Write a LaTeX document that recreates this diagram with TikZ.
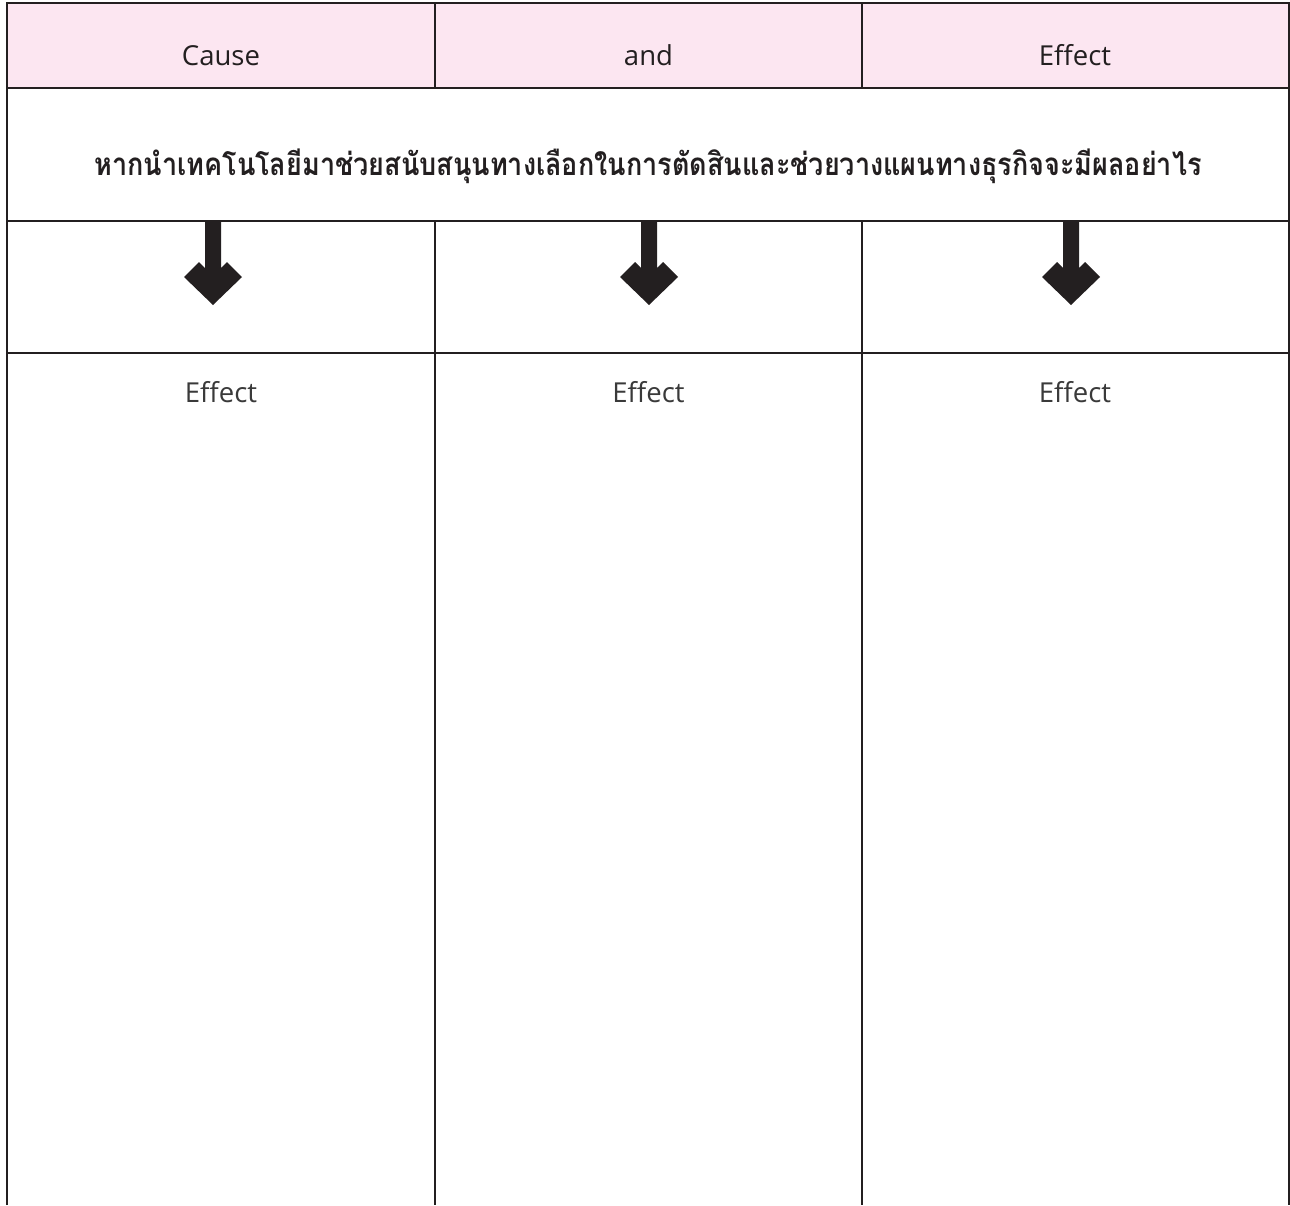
\documentclass[tikz,border=0pt]{standalone}
\usepackage{fontspec}
\setmainfont{Open Sans}
\newfontfamily\thaifont[Script=Thai,FakeStretch=0.86]{Loma}
\definecolor{ink}{HTML}{231F20}
\definecolor{headpink}{HTML}{FCE6F1}
\definecolor{softgray}{HTML}{3A3A3A}
\begin{document}
\begin{tikzpicture}[x=1pt,y=-1pt,
  gridline/.style={draw=ink,line width=2.9pt},
  headtext/.style={anchor=base,text=ink,font=\fontsize{27.5}{32}\selectfont,inner sep=0pt},
  effecttext/.style={anchor=base,text=softgray,font=\fontsize{27.5}{32}\selectfont,inner sep=0pt},
  questiontext/.style={anchor=base,text=ink,font=\thaifont\bfseries\fontsize{31.4}{36}\selectfont,inner sep=0pt},
  downarrow/.style={fill=ink,draw=none}]
\useasboundingbox (0,0) rectangle (1290,1205);
% header fill
\fill[headpink] (7,3) rectangle (1289,88);
% grid
\draw[gridline] (7,1205) -- (7,3) -- (1289,3) -- (1289,1205);
\draw[gridline] (7,88) -- (1289,88);
\draw[gridline] (7,221) -- (1289,221);
\draw[gridline] (7,353) -- (1289,353);
\draw[gridline] (435,3) -- (435,88);
\draw[gridline] (862,3) -- (862,88);
\draw[gridline] (435,221) -- (435,1205);
\draw[gridline] (862,221) -- (862,1205);
% header texts
\node[headtext] (cause) at (221,65) {Cause};
\node[headtext] (and) at (648.5,65) {and};
\node[headtext] (effect) at (1075,65) {Effect};
% question
\node[questiontext] (question) at (648,175) {หากนำเทคโนโลยีมาช่วยสนับสนุนทางเลือกในการตัดสินและช่วยวางแผนทางธุรกิจจะมีผลอย่าไร};
% arrows
\foreach \cx/\nm in {213/a, 649/b, 1071/c} {
  \fill[downarrow] (\cx-8,221) -- (\cx+8,221) -- (\cx+8,268) -- (\cx+14,262) -- (\cx+29,277)
    -- (\cx,305) -- (\cx-29,277) -- (\cx-14,262) -- (\cx-8,268) -- cycle;
}
% effect labels
\node[effecttext] (effA) at (221,402) {Effect};
\node[effecttext] (effB) at (648.5,402) {Effect};
\node[effecttext] (effC) at (1075,402) {Effect};
\end{tikzpicture}
\end{document}
